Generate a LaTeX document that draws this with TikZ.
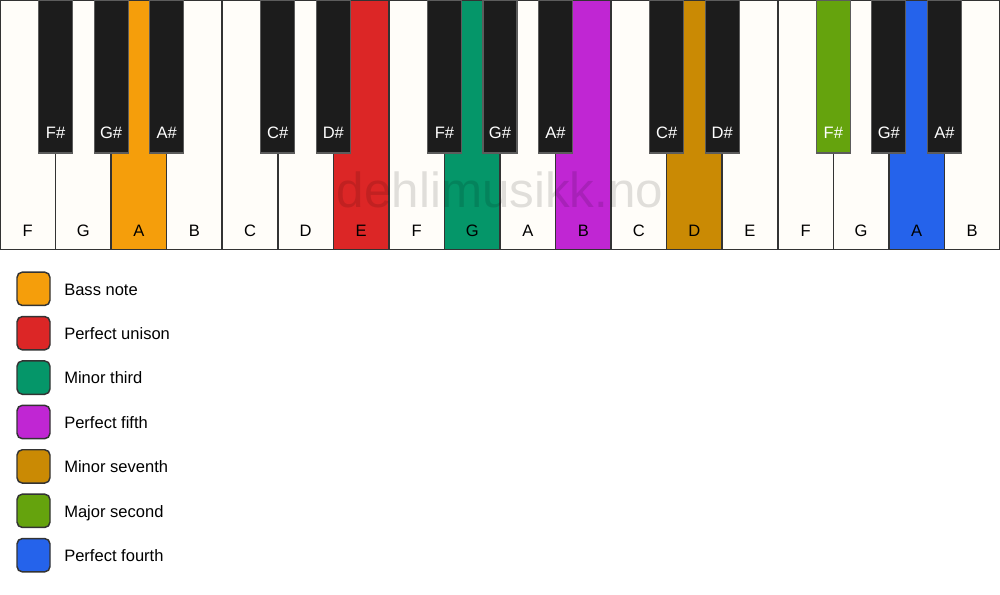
\documentclass[tikz,border=0pt]{standalone}
\usepackage{fontspec}
\setmainfont{Liberation Sans}
\definecolor{wkey}{HTML}{FFFDF9}
\definecolor{bkey}{HTML}{1C1C1C}
\definecolor{keyedge}{HTML}{333333}
\definecolor{cbass}{HTML}{F59E0B}
\definecolor{cunison}{HTML}{DC2626}
\definecolor{cminthird}{HTML}{059669}
\definecolor{cfifth}{HTML}{C026D3}
\definecolor{cminsev}{HTML}{CA8A04}
\definecolor{cmajsec}{HTML}{65A30D}
\definecolor{cfourth}{HTML}{2563EB}
\tikzset{
  whitekey/.style={draw=keyedge, line width=1.1pt, rectangle, inner sep=0pt, outer sep=0pt,
    minimum width=41.667pt, minimum height=186.75pt},
  blackkey/.style={draw=keyedge!80!white, line width=0.9pt, rectangle, inner sep=0pt, outer sep=0pt,
    minimum width=25.5pt, minimum height=114.75pt},
  wlabel/.style={anchor=base, inner sep=0pt, text=black, font=\fontsize{12.4}{14}\selectfont},
  blabel/.style={anchor=base, inner sep=0pt, text=white, font=\fontsize{12.4}{14}\selectfont},
  legbox/.style={draw=keyedge, line width=1.1pt, rounded corners=4pt, inner sep=0pt,
    minimum width=24.75pt, minimum height=25pt},
  legtext/.style={anchor=base west, inner sep=0pt, text=black, font=\fontsize{12.4}{14}\selectfont},
  watermark/.style={anchor=base, inner sep=0pt, text=black, text opacity=0.12, font=\fontsize{37}{40}\selectfont}
}
\begin{document}
\begin{tikzpicture}[x=0.75pt,y=-0.75pt]
\useasboundingbox (0,0) rectangle (1000,594);
\fill[white] (0,0) rectangle (1000,594);
% white keys
\foreach \i/\n/\c in {0/F/wkey,1/G/wkey,2/A/cbass,3/B/wkey,4/C/wkey,5/D/wkey,6/E/cunison,
  7/F/wkey,8/G/cminthird,9/A/wkey,10/B/cfifth,11/C/wkey,12/D/cminsev,13/E/wkey,
  14/F/wkey,15/G/wkey,16/A/cfourth,17/B/wkey}{
  \node[whitekey, fill=\c] (w\i) at ({(\i+0.5)*55.5556},125) {};
  \node[wlabel] (wl\i) at ({(\i+0.5)*55.5556},236) {\n};
}
% watermark
\node[watermark] (wm) at (500,207) {dehlimusikk.no};
% black keys
\foreach \b/\n/\c in {1/F\#/bkey,2/G\#/bkey,3/A\#/bkey,5/C\#/bkey,6/D\#/bkey,
  8/F\#/bkey,9/G\#/bkey,10/A\#/bkey,12/C\#/bkey,13/D\#/bkey,
  15/F\#/cmajsec,16/G\#/bkey,17/A\#/bkey}{
  \node[blackkey, fill=\c] (b\b) at ({\b*55.5556},76.5) {};
  \node[blabel] (bl\b) at ({\b*55.5556},138.5) {\n};
}
% legend
\foreach \k/\c/\t in {0/cbass/Bass note,1/cunison/Perfect unison,2/cminthird/Minor third,
  3/cfifth/Perfect fifth,4/cminsev/Minor seventh,5/cmajsec/Major second,6/cfourth/Perfect fourth}{
  \node[legbox, fill=\c] (lb\k) at (33.5,{288.8+44.4*\k}) {};
  \node[legtext] (lt\k) at (64,{295+44.4*\k}) {\t};
}
\end{tikzpicture}
\end{document}
